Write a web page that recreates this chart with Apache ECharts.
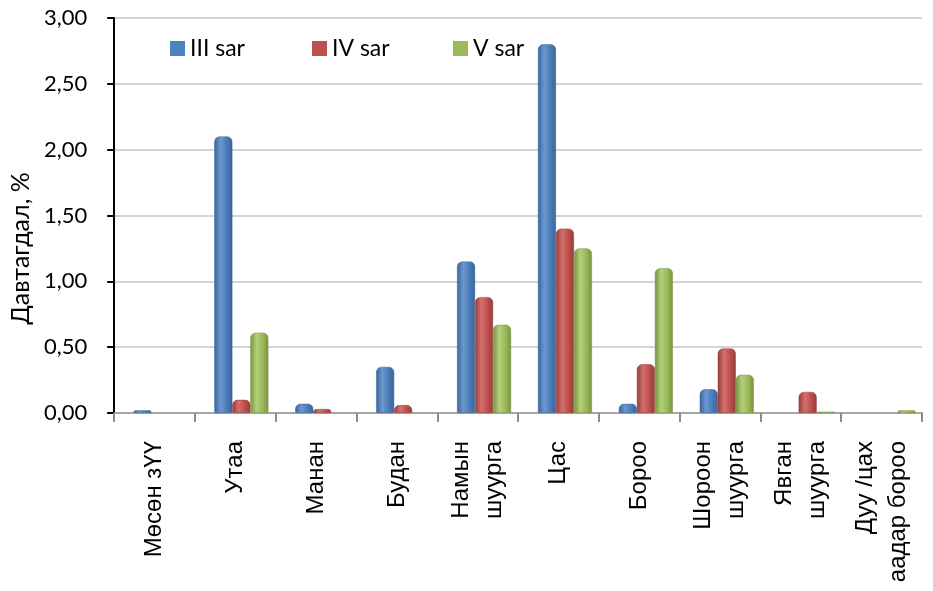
<!DOCTYPE html>
<html>
<head>
<meta charset="utf-8">
<script src="https://cdn.jsdelivr.net/npm/echarts@6/dist/echarts.min.js"></script>
<style>html,body{margin:0;padding:0;background:#fff;}#c{width:933px;height:591px;}</style>
</head>
<body>
<div id="c"></div>
<script>
const categories = ['Мөсөн зҮҮ', 'Утаа', 'Манан', 'Будан', 'Намын\nшуурга', 'Цас', 'Бороо', 'Шороон\nшуурга', 'Явган\nшуурга', 'Дуу /цах\nаадар бороо'];
const seriesNames = ['III sar', 'IV sar', 'V sar'];
const sar3 = [0.02, 2.10, 0.07, 0.35, 1.15, 2.80, 0.07, 0.18, null, null];
const sar4 = [null, 0.10, 0.03, 0.06, 0.88, 1.40, 0.37, 0.49, 0.16, null];
const sar5 = [null, 0.61, null, null, 0.67, 1.25, 1.10, 0.29, 0.01, 0.02];
const yTicks = { min: 0, max: 3, interval: 0.5 };

function cyl(dark, mid, light) {
  return new echarts.graphic.LinearGradient(0, 0, 1, 0, [
    { offset: 0, color: dark },
    { offset: 0.35, color: light },
    { offset: 0.7, color: mid },
    { offset: 1, color: dark }
  ]);
}
const styles = [
  { c: '#4F81BD', g: cyl('#3a6497', '#4a7bb7', '#6b98cf'), b: '#3d679c' },
  { c: '#C0504D', g: cyl('#943c3a', '#bd4e4b', '#d4706d'), b: '#9a3f3c' },
  { c: '#9BBB59', g: cyl('#779243', '#98b857', '#b3d07a'), b: '#7a9646' }
];
const values = [sar3, sar4, sar5];

const chart = echarts.init(document.getElementById('c'), null, { renderer: 'canvas' });
const legendPos = [165, 307, 448];
chart.setOption({
  animation: false,
  backgroundColor: '#ffffff',
  textStyle: { fontFamily: 'Lato' },
  legend: seriesNames.map((n, i) => ({
    data: [{ name: n, itemStyle: { color: styles[i].c, borderWidth: 0 } }],
    left: legendPos[i], top: 32, itemWidth: 15, itemHeight: 15, itemGap: 6,
    icon: 'rect',
    textStyle: { fontSize: 23, color: '#000', fontFamily: 'Lato' }
  })),
  grid: [
    { left: 113, right: 11, top: 18, bottom: 178 },
    { left: 120, right: 4, top: 18, bottom: 178 }
  ],
  xAxis: [{
    type: 'category',
    gridIndex: 0,
    data: categories,
    axisLine: { lineStyle: { color: '#a6a6a6', width: 2 } },
    axisTick: { show: true, length: 9, lineStyle: { color: '#8c8c8c', width: 2 } },
    axisLabel: {
      interval: 0, rotate: 90, margin: 28, color: '#000',
      fontSize: 24, fontFamily: 'Arial', lineHeight: 33
    },
    splitLine: { show: false }
  }, {
    type: 'category',
    gridIndex: 1,
    data: categories,
    show: false
  }],
  yAxis: [{
    type: 'value',
    gridIndex: 0,
    min: yTicks.min, max: yTicks.max, interval: yTicks.interval,
    name: 'Давтагдал, %',
    nameLocation: 'middle',
    nameGap: 76,
    nameTextStyle: { fontSize: 25, color: '#000', fontFamily: 'Lato', padding: [0, 66, 0, 0] },
    axisLine: { show: true, lineStyle: { color: '#000', width: 2 } },
    axisTick: { show: true, length: 7, lineStyle: { color: '#000', width: 2 } },
    axisLabel: {
      fontSize: 22, color: '#000', margin: 27, fontFamily: 'Lato',
      formatter: v => v.toFixed(2).replace('.', ',')
    },
    splitLine: { lineStyle: { color: '#d4d4d4', width: 2 } }
  }, {
    type: 'value',
    gridIndex: 1,
    min: yTicks.min, max: yTicks.max, interval: yTicks.interval,
    show: false,
    splitLine: { show: false }
  }],
  series: seriesNames.map((n, i) => ({
    name: n,
    type: 'bar',
    xAxisIndex: 1,
    yAxisIndex: 1,
    data: values[i],
    barWidth: 18,
    barGap: '0%',
    itemStyle: { color: styles[i].g, borderColor: styles[i].b, borderWidth: 0.5, borderRadius: [5, 5, 1, 1] }
  })),
  color: styles.map(s => s.c)
});
</script>
</body>
</html>
